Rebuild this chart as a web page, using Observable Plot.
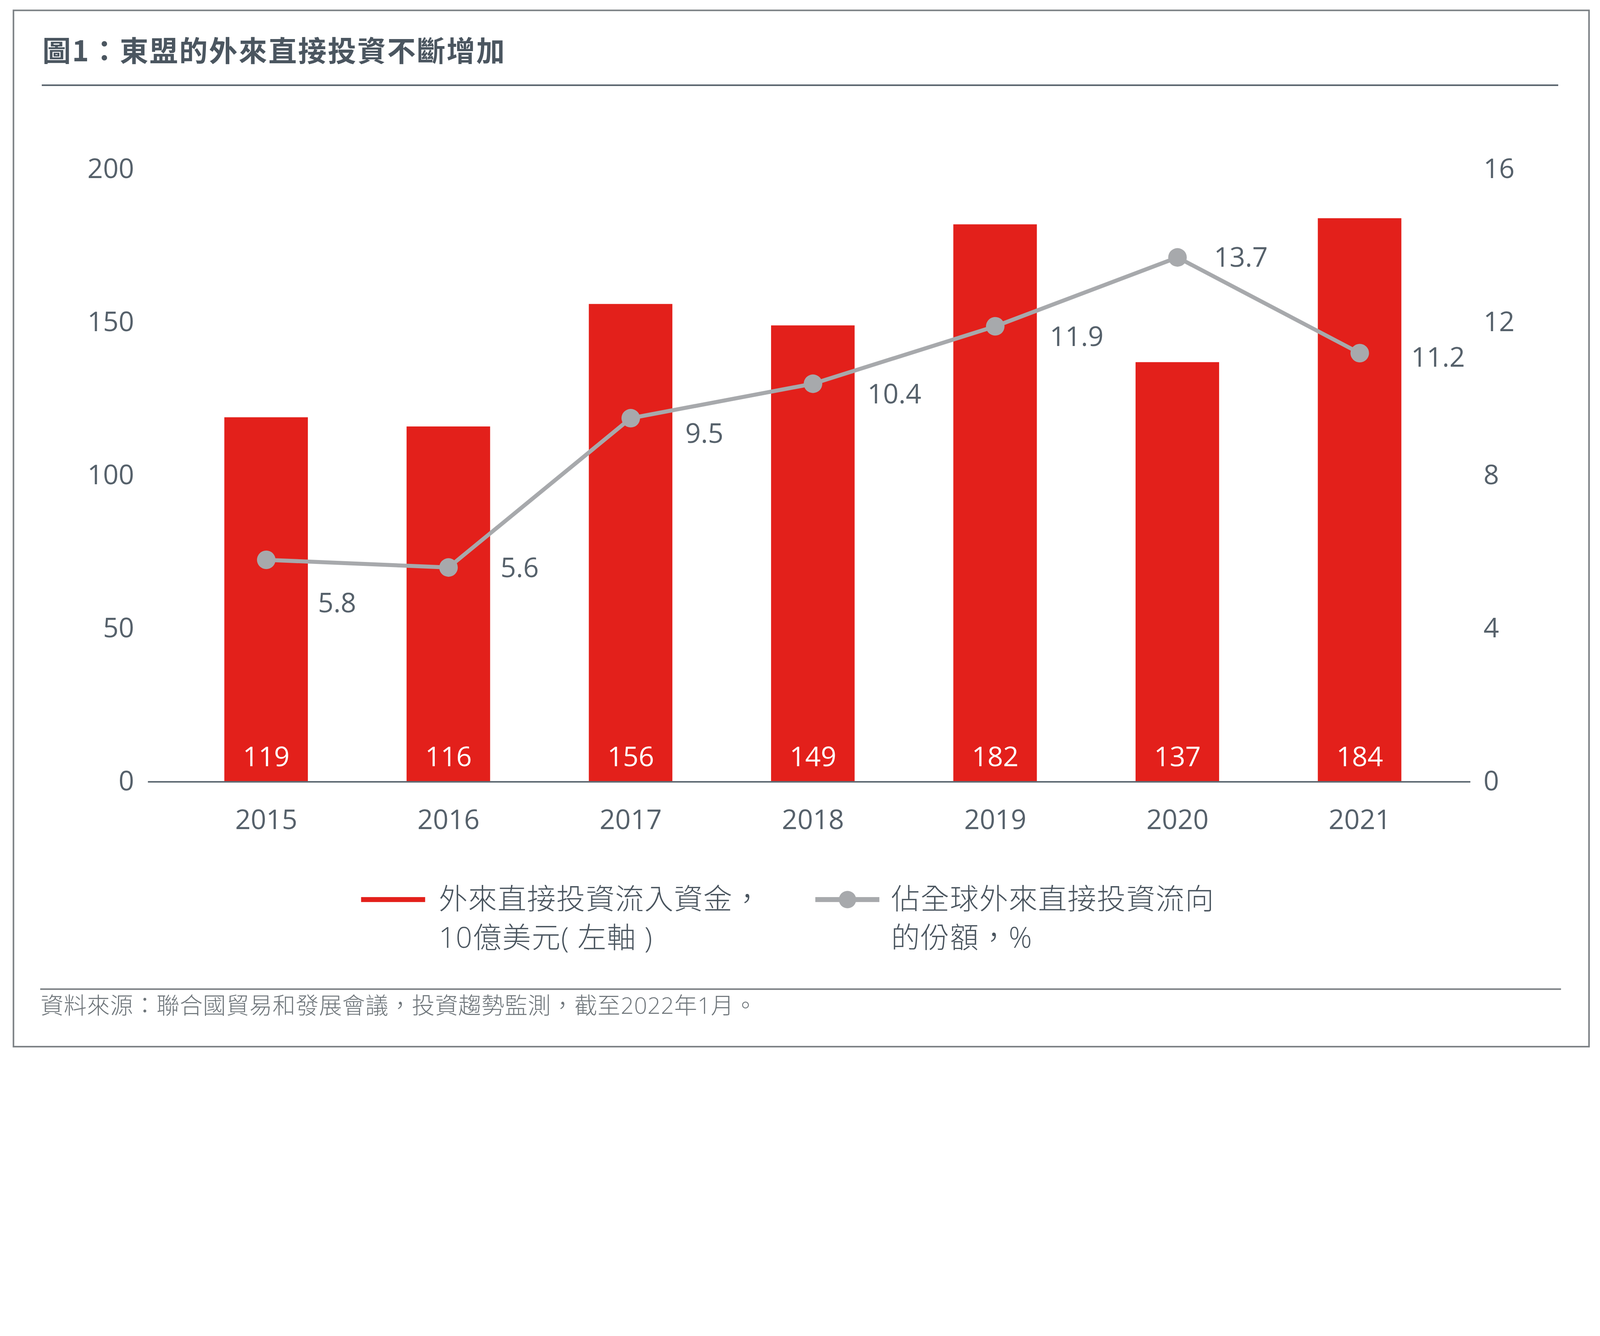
<!DOCTYPE html>
<html>
<head>
<meta charset="utf-8">
<script src="https://cdn.jsdelivr.net/npm/d3@7"></script>
<script src="https://cdn.jsdelivr.net/npm/@observablehq/plot@0.6"></script>
<style>
  html, body { margin: 0; padding: 0; background: #fff; overflow: hidden; }
  #wrap { position: relative; overflow: hidden; width: 5171px; height: 3421px; }
  #page { position: absolute; left: 0; top: 0; width: 5171px; height: 3421px; background: #fff; overflow: hidden; transform-origin: 0 0; }
  .abs { position: absolute; white-space: nowrap; }
  #frame { left: 41px; top: 31px; width: 5097px; height: 3355px; border: 5px solid #7b8084; box-sizing: border-box; }
  #title { left: 137px; top: 112px; font-family: "Noto Sans CJK TC", sans-serif; font-weight: 700; font-size: 92px; line-height: 1; letter-spacing: 4px; color: #4b5660; }
  #titleRule { left: 135px; top: 273px; width: 4901px; height: 5px; background: #56616a; }
  #chart { left: 0; top: 400px; }
  .leg { font-family: "Open Sans", "Noto Sans CJK TC", sans-serif; font-weight: 300; font-size: 93px; line-height: 1; letter-spacing: 2px; color: #4a555f; }
  #sw1 { left: 1167px; top: 2900px; width: 207px; height: 16px; background: #e3201b; }
  #sw2line { left: 2635px; top: 2900px; width: 207px; height: 16px; background: #a7a9ac; }
  #sw2dot { left: 2711px; top: 2880px; width: 56px; height: 56px; border-radius: 50%; background: #a7a9ac; }
  #srcRule { left: 130px; top: 3195px; width: 4915px; height: 5px; background: #7b8084; }
  #source { left: 131px; top: 3212px; font-family: "Open Sans", "Noto Sans CJK TC", sans-serif; font-weight: 300; font-size: 74px; line-height: 1; letter-spacing: 1px; color: #6e757a; }
</style>
</head>
<body>
<div id="wrap">
<div id="page">
  <div id="frame" class="abs"></div>
  <div id="title" class="abs"></div>
  <div id="titleRule" class="abs"></div>
  <div id="chart" class="abs"></div>
  <div id="sw1" class="abs"></div>
  <div id="leg1a" class="abs leg" style="left:1418px; top:2857px;"></div>
  <div id="leg1b" class="abs leg" style="left:1418px; top:2982px;"></div>
  <div id="sw2line" class="abs"></div>
  <div id="sw2dot" class="abs"></div>
  <div id="leg2a" class="abs leg" style="left:2880px; top:2857px;"></div>
  <div id="leg2b" class="abs leg" style="left:2880px; top:2982px;"></div>
  <div id="srcRule" class="abs"></div>
  <div id="source" class="abs"></div>
</div>
</div>
<script>
// ---- data ----
const years = ["2015", "2016", "2017", "2018", "2019", "2020", "2021"];
const fdiInflows = [119, 116, 156, 149, 182, 137, 184];          // US$ bn, left axis
const globalShare = [5.8, 5.6, 9.5, 10.4, 11.9, 13.7, 11.2];      // %, right axis
const leftTicks = [0, 50, 100, 150, 200];
const rightTicks = [0, 4, 8, 12, 16];
const titleText = "圖1：東盟的外來直接投資不斷增加";
const legendBars = ["外來直接投資流入資金，", "10億美元( 左軸 )"];
const legendLine = ["佔全球外來直接投資流向", "的份額，%"];
const sourceText = "資料來源：聯合國貿易和發展會議，投資趨勢監測，截至2022年1月。";

// fit the fixed 5171×3421 layout to the actual viewport
const W = 5171, H = 3421;
const wrap = document.getElementById("wrap");
const page = document.getElementById("page");
const s = Math.min(window.innerWidth / W, window.innerHeight / H);
if (Math.abs(s - 1) > 0.001) {
  page.style.transform = `scale(${s})`;
  wrap.style.width = (W * s) + "px";
  wrap.style.height = (H * s) + "px";
}

document.getElementById("title").textContent = titleText;
document.getElementById("leg1a").textContent = legendBars[0];
document.getElementById("leg1b").textContent = legendBars[1];
document.getElementById("leg2a").textContent = legendLine[0];
document.getElementById("leg2b").textContent = legendLine[1];
document.getElementById("source").textContent = sourceText;

const data = years.map((year, i) => ({year, fdi: fdiInflows[i], share: globalShare[i]}));
const leftMax = leftTicks[leftTicks.length - 1];
const rightMax = rightTicks[rightTicks.length - 1];
const k = leftMax / rightMax; // right axis -> left axis units

const RED = "#e3201b";
const GRAY = "#a7a9ac";
const TXT = "#56616b";
const FS = 88;

const shareText = (filter, dx, dy) => Plot.text(data.filter(d => filter.includes(d.year)), {
  x: "year", y: d => d.share * k, text: d => d.share.toFixed(1),
  textAnchor: "start", lineAnchor: "bottom", dx, dy,
  fill: TXT, fontSize: FS
});

const chart = Plot.plot({
  width: 5171,
  height: 2360,
  marginLeft: 478,
  marginRight: 419,
  marginTop: 147,
  marginBottom: 233,
  style: {fontFamily: "'Open Sans', sans-serif", fontSize: FS + "px", color: TXT, background: "transparent", overflow: "visible"},
  x: {domain: years, paddingInner: 0.542, paddingOuter: 0.396, align: 0.525, label: null},
  y: {domain: [0, leftMax], label: null},
  marks: [
    Plot.barY(data, {x: "year", y: "fdi", fill: RED}),
    Plot.ruleY([0], {stroke: "#5f6a73", strokeWidth: 5}),
    Plot.text(data, {x: "year", y: () => 0, text: d => String(d.fdi), fill: "#ffffff", lineAnchor: "bottom", dy: -51, fontSize: FS}),
    Plot.line(data, {x: "year", y: d => d.share * k, stroke: GRAY, strokeWidth: 13}),
    Plot.dot(data, {x: "year", y: d => d.share * k, r: 30, fill: GRAY, stroke: null}),
    shareText(["2015"], 167, 170),
    shareText(["2016"], 168, 32),
    shareText(["2021"], 166, 44),
    shareText(["2017"], 176, 80),
    shareText(["2018", "2019"], 176, 64),
    shareText(["2020"], 118, 30),
    Plot.axisY({anchor: "left", ticks: leftTicks, tickSize: 0, tickPadding: 45, fontSize: FS, fill: TXT, label: null}),
    Plot.axisY({anchor: "right", ticks: rightTicks.map(t => t * k), tickFormat: d => String(Math.round(d / k)), tickSize: 0, tickPadding: 42, fontSize: FS, fill: TXT, label: null}),
    Plot.axisX({tickSize: 0, tickPadding: 90, fontSize: FS, fill: TXT, label: null})
  ]
});
document.getElementById("chart").appendChild(chart);
</script>
</body>
</html>
